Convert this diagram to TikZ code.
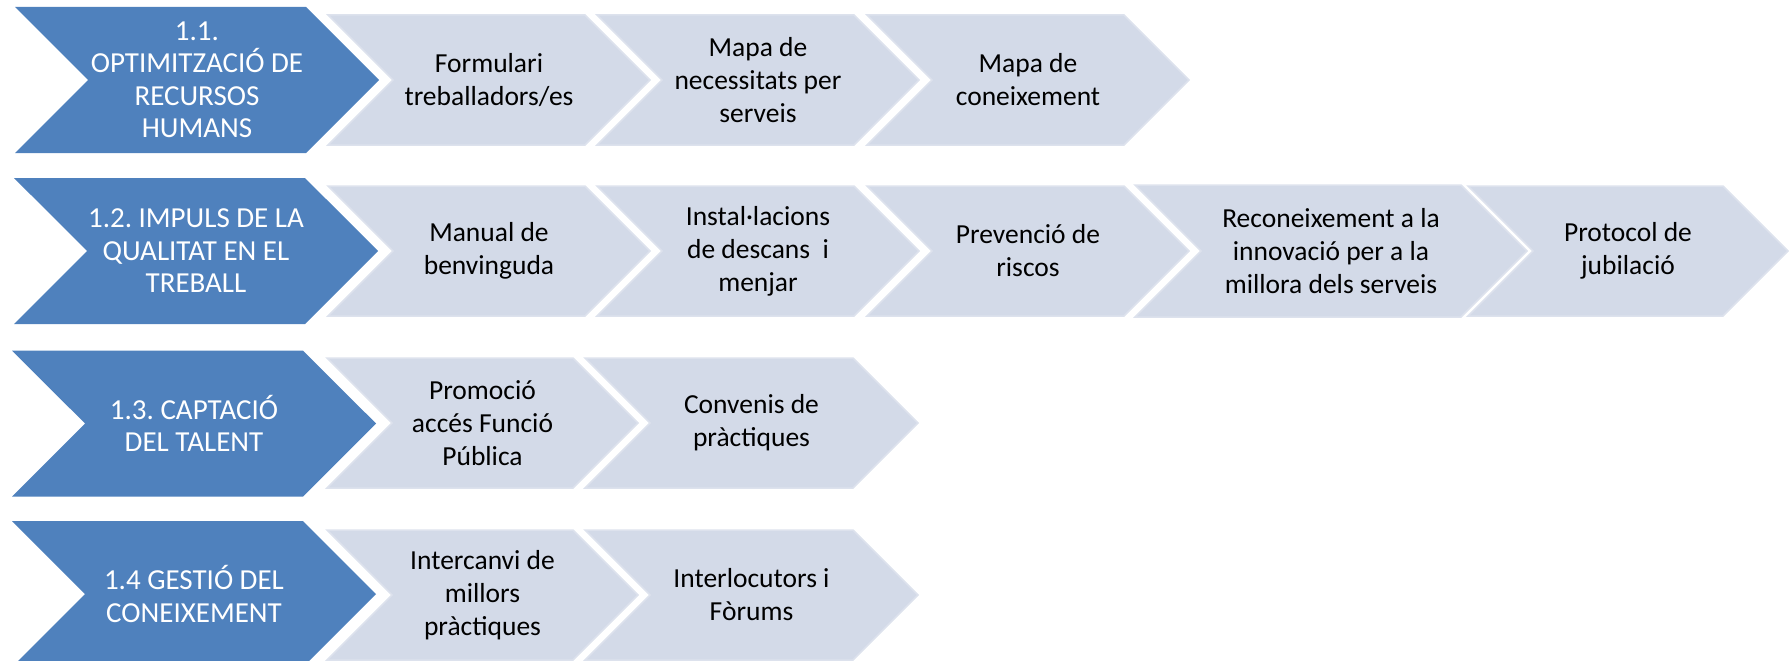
\documentclass[tikz,border=0pt]{standalone}
\usepackage{fontspec}
\setmainfont{Carlito}
\usetikzlibrary{shapes.symbols}
\definecolor{stepblue}{RGB}{79,129,189}
\definecolor{steplight}{RGB}{211,218,232}
\definecolor{stepedge}{RGB}{221,226,237}
\frenchspacing
\tikzset{
    chevron/.style = {
        shape = signal,
        signal to = east,
        signal from = west,
        signal pointer angle = 90,
        inner sep = 0pt,
        outer sep = 0pt,
        align = center
    },
    headstep/.style = {
        chevron,
        fill = stepblue,
        text = white,
        font = \fontsize{29}{32.5}\selectfont,
        minimum width = 364pt,
        minimum height = 146pt
    },
    substep/.style = {
        chevron,
        fill = steplight,
        draw = stepedge,
        line width = 1.5pt,
        text = black,
        font = \fontsize{27.5}{33}\selectfont,
        minimum width = 322pt,
        minimum height = 130pt
    }
}

\begin{document}
\begin{tikzpicture}[x = 1pt, y = -1pt]
    \useasboundingbox (0, 0) rectangle (1789, 661);

    % 1.1
    \node[headstep] (h1) at (197, 80) {1.1.\\OPTIMITZACIÓ DE\\RECURSOS\\HUMANS};
    \node[substep] (s11) at (489, 80) {Formulari\\treballadors/es};
    \node[substep] (s12) at (758, 80) {Mapa de\\necessitats per\\serveis};
    \node[substep] (s13) at (1028, 80) {Mapa de\\coneixement};

    % 1.2
    \node[headstep] (h2) at (196, 251) {1.2. IMPULS DE LA\\QUALITAT EN EL\\TREBALL};
    \node[substep] (s21) at (489, 251) {Manual de\\benvinguda};
    \node[substep] (s22) at (758, 251) {Instal·lacions\\de descans~ i\\menjar};
    \node[substep] (s23) at (1028, 251) {Prevenció de\\riscos};
    \node[substep, minimum width = 392pt, minimum height = 132pt] (s24) at (1331, 251) {Reconeixement a la\\innovació per a la\\millora dels serveis};
    \node[substep, minimum width = 320pt] (s25) at (1628, 251) {Protocol de\\jubilació};

    % 1.3
    \node[headstep] (h3) at (194, 423.5) {1.3. CAPTACIÓ\\DEL TALENT};
    \node[substep, minimum width = 311pt] (s31) at (482.5, 423) {Promoció\\accés Funció\\Pública};
    \node[substep, minimum width = 333pt] (s32) at (751.5, 423) {Convenis de\\pràctiques};

    % 1.4
    \node[headstep] (h4) at (194, 594) {1.4 GESTIÓ DEL\\CONEIXEMENT};
    \node[substep, minimum width = 311pt] (s41) at (482.5, 595) {Intercanvi de\\millors\\pràctiques};
    \node[substep, minimum width = 333pt] (s42) at (751.5, 595) {Interlocutors i\\Fòrums};
\end{tikzpicture}
\end{document}
